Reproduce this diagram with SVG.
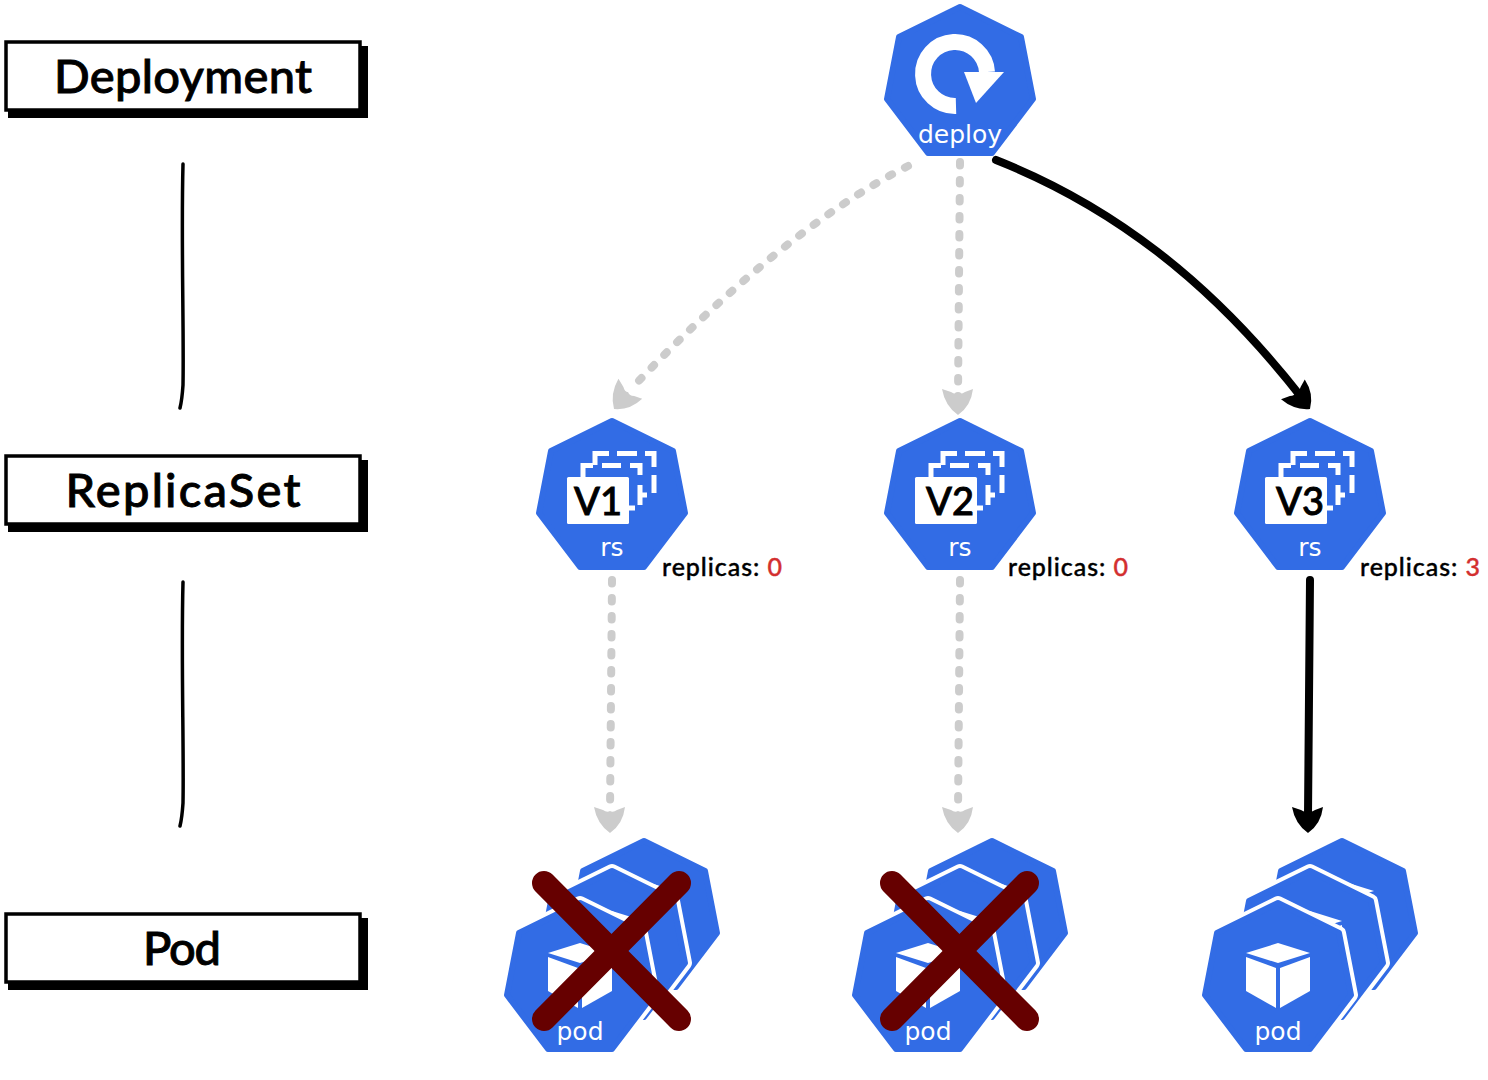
<svg xmlns="http://www.w3.org/2000/svg" width="1488" height="1080" viewBox="0 0 1488 1080">
<style>
.hept{fill:#326ce5;stroke:#326ce5;stroke-width:6;stroke-linejoin:round}
.outl{fill:#326ce5;stroke:#fff;stroke-width:14;stroke-linejoin:round}
.k8s{font-family:"DejaVu Sans",sans-serif;font-size:25px;fill:#fff;text-anchor:middle}
.hand{font-family:"Lato",sans-serif;fill:#000;stroke:#000}
.title{font-size:47px;font-weight:500;text-anchor:middle;stroke-width:.9px}
.rep{font-size:25px;font-weight:500;stroke-width:.4px}
.red{fill:#d32f2f;stroke:#d32f2f}
.ver{font-size:38px;font-weight:500;text-anchor:middle;stroke-width:.9px}
.frame{fill:#fff;stroke:#000;stroke-width:3.500}
.dash{fill:none;stroke:#fff;stroke-width:5}
.gline{fill:none;stroke:#ccc;stroke-width:8;stroke-linecap:round;stroke-dasharray:3.500 14.500}
.bline{fill:none;stroke:#000;stroke-width:8;stroke-linecap:round}
.vline{fill:none;stroke:#000;stroke-width:3.500;stroke-linecap:round}
.cross{stroke:#660000;stroke-width:24;stroke-linecap:round}
</style>
<defs>
<path id="h" d="M0,3 L61,33 L73,95 L32,149 L-32,149 L-73,95 L-61,33 Z"/>
<path id="ah" d="M0,0 Q-13,-9 -16,-26 L-7,-23 Q-3,-20 0,-22 Q3,-20 7,-23 L15,-26 Q13,-9 0,0 Z"/>
<g id="cube" fill="#fff">
<path d="M0,43 L32,53 L0,63 L-32,53 Z"/>
<path d="M-32,57 L-2,68 L-2,108 L-32,91 Z"/>
<path d="M32,57 L2,68 L2,108 L32,91 Z"/>
</g>
<g id="rs">
<use href="#h" class="hept"/>
<path class="dash" d="M-17,47V35.500H-3M5,35.500H25M33,35.500H42V49M42,57V75M-29,59V47.500H-19M-10,47.500H9M18,47.500H28V57M28,67V87M27,77H35M17,90H23"/>
<rect x="-45" y="59" width="62" height="47" rx="1.500" fill="#fff"/>
<text x="0" y="138" class="k8s">rs</text>
</g>
<g id="pods">
<g transform="translate(64,-62)"><use href="#h" class="hept"/><use href="#cube"/></g>
<g transform="translate(32,-32)"><use href="#h" class="outl"/><use href="#h" class="hept"/><use href="#cube"/></g>
<use href="#h" class="outl"/><use href="#h" class="hept"/><use href="#cube"/>
<text x="0" y="140" class="k8s">pod</text>
</g>
</defs>

<g id="connectors">
<path class="vline" d="M183,164 C181,240 184,330 183,385 Q182,400 180,408"/>
<path class="vline" d="M183,582 C181,658 184,748 183,803 Q182,818 180,826"/>
<path class="gline" d="M908,166 C820,210 720,295 632,388"/>
<use href="#ah" transform="translate(614,409) rotate(40)" fill="#ccc"/>
<path class="gline" d="M960,162 L958,396"/>
<use href="#ah" transform="translate(958,415)" fill="#ccc"/>
<path class="bline" d="M996,160 C1110,205 1210,280 1302,398"/>
<use href="#ah" transform="translate(1310,409) rotate(-40)" fill="#000"/>
<path class="gline" d="M612,580 L610,812"/>
<use href="#ah" transform="translate(610,833)" fill="#ccc"/>
<path class="gline" d="M960,580 L958,812"/>
<use href="#ah" transform="translate(958,833)" fill="#ccc"/>
<path class="bline" d="M1310,580 L1308,815"/>
<use href="#ah" transform="translate(1308,833)" fill="#000"/>
</g>

<g id="label-deployment">
<rect x="8" y="46" width="360" height="72"/>
<rect class="frame" x="6" y="42" width="354" height="68"/>
<text class="hand title" x="183" y="93" textLength="258">Deployment</text>
</g>
<g id="label-replicaset">
<rect x="8" y="460" width="360" height="72"/>
<rect class="frame" x="6" y="456" width="354" height="68"/>
<text class="hand title" x="183" y="507" textLength="235">ReplicaSet</text>
</g>
<g id="label-pod">
<rect x="8" y="918" width="360" height="72"/>
<rect class="frame" x="6" y="914" width="354" height="68"/>
<text class="hand title" x="182" y="965" textLength="78">Pod</text>
</g>

<g id="deploy" transform="translate(960,1)">
<g transform="translate(0,3)"><use href="#h" class="hept"/></g>
<path d="M-4,105 A32,32 0 1 1 27,71" fill="none" stroke="#fff" stroke-width="16"/>
<path d="M4,71 L44,71 L16,102 Z" fill="#fff"/>
<text x="0" y="142" class="k8s">deploy</text>
</g>

<g id="rs-v1" transform="translate(612,418)">
<use href="#rs"/>
<text class="hand ver" x="-14" y="97">V1</text>
</g>
<g id="rs-v2" transform="translate(960,418)">
<use href="#rs"/>
<text class="hand ver" x="-10" y="97">V2</text>
</g>
<g id="rs-v3" transform="translate(1310,418)">
<use href="#rs"/>
<text class="hand ver" x="-10" y="97">V3</text>
</g>

<g id="replicas-v1"><text class="hand rep" x="662" y="576" textLength="120">replicas: <tspan class="red">0</tspan></text></g>
<g id="replicas-v2"><text class="hand rep" x="1008" y="576" textLength="120">replicas: <tspan class="red">0</tspan></text></g>
<g id="replicas-v3"><text class="hand rep" x="1360" y="576" textLength="120">replicas: <tspan class="red">3</tspan></text></g>

<g id="pod-v1" transform="translate(580,900)"><use href="#pods"/></g>
<g id="pod-v2" transform="translate(928,900)"><use href="#pods"/></g>
<g id="pod-v3" transform="translate(1278,900)"><use href="#pods"/></g>

<g id="cross-v1"><line class="cross" x1="544" y1="883" x2="679" y2="1019"/><line class="cross" x1="679" y1="883" x2="544" y2="1019"/></g>
<g id="cross-v2"><line class="cross" x1="892" y1="883" x2="1027" y2="1019"/><line class="cross" x1="1027" y1="883" x2="892" y2="1019"/></g>
</svg>
